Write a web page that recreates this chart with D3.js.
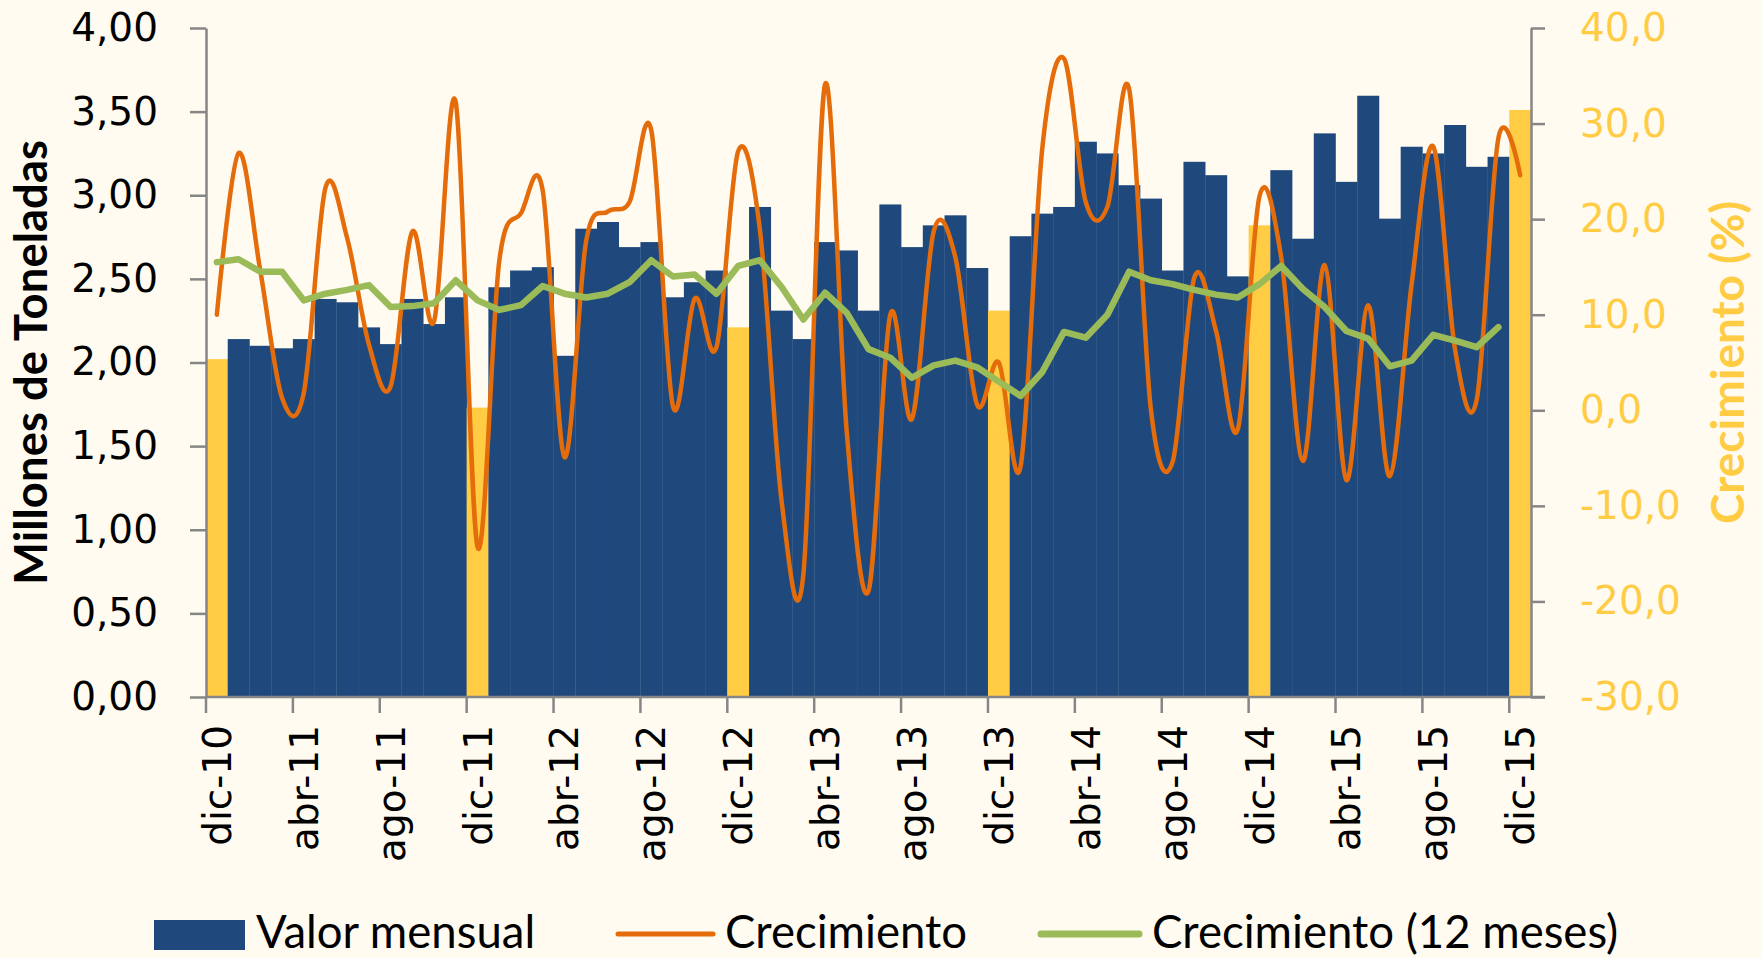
<!DOCTYPE html>
<html>
<head>
<meta charset="utf-8">
<script src="https://cdn.jsdelivr.net/npm/d3@7"></script>
<style>
  html, body { margin: 0; padding: 0; background: #FFFBF0; }
  svg { display: block; }
</style>
</head>
<body>
<div id="chart"></div>
<script>
// === Data ===
const monthNames = ["ene", "feb", "mar", "abr", "may", "jun", "jul", "ago", "sep", "oct", "nov", "dic"];
const years = ["11", "12", "13", "14", "15"];
const months = ["dic-10"];
years.forEach(y => monthNames.forEach(m => months.push(m + "-" + y)));

const tickLabels = ["dic-10", "abr-11", "ago-11", "dic-11", "abr-12", "ago-12", "dic-12", "abr-13",
  "ago-13", "dic-13", "abr-14", "ago-14", "dic-14", "abr-15", "ago-15", "dic-15"];

// Millones de toneladas
const valorMensual = [
  2.02,
  2.14, 2.10, 2.085, 2.14, 2.38, 2.36, 2.21, 2.11, 2.38, 2.23, 2.39, 1.73,
  2.45, 2.55, 2.57, 2.04, 2.80, 2.84, 2.69, 2.72, 2.39, 2.48, 2.55, 2.21,
  2.93, 2.31, 2.14, 2.72, 2.67, 2.31, 2.945, 2.69, 2.82, 2.88, 2.565, 2.31,
  2.755, 2.89, 2.93, 3.32, 3.25, 3.06, 2.98, 2.55, 3.20, 3.12, 2.515, 2.82,
  3.15, 2.74, 3.37, 3.08, 3.595, 2.86, 3.29, 3.25, 3.42, 3.17, 3.23, 3.51
];

// Crecimiento mensual (%)
const crecimiento = [
  10.0,
  26.9, 14.6, 1.3, 1.8, 23.3, 18.0, 6.9, 2.5, 18.7, 9.3, 32.2, -14.3,
  15.6, 20.6, 23.0, -4.9, 17.7, 20.8, 21.8, 29.3, 0.4, 11.7, 6.6, 27.1,
  18.9, -9.5, -17.2, 34.1, -2.3, -18.9, 10.0, -0.9, 18.7, 16.0, 0.6, 5.0,
  -5.9, 27.4, 36.8, 21.8, 21.3, 33.6, 0.1, -5.4, 13.9, 8.3, -2.0, 22.4,
  16.0, -5.3, 15.2, -7.3, 11.0, -6.9, 13.1, 27.6, 6.4, 1.1, 28.5, 24.6
];

// Crecimiento acumulado 12 meses (%), hasta nov-15
const crecimiento12 = [
  15.5,
  15.8, 14.5, 14.5, 11.5, 12.2, 12.6, 13.1, 10.8, 10.9, 11.2, 13.6, 11.5,
  10.5, 11.0, 13.0, 12.2, 11.8, 12.2, 13.4, 15.7, 14.0, 14.2, 12.2, 15.1,
  15.7, 12.9, 9.5, 12.3, 10.2, 6.4, 5.5, 3.4, 4.7, 5.2, 4.5, 3.0,
  1.5, 4.0, 8.2, 7.6, 10.0, 14.5, 13.6, 13.2, 12.6, 12.1, 11.8, 13.2,
  15.1, 12.7, 10.8, 8.3, 7.5, 4.6, 5.2, 7.9, 7.3, 6.6, 8.7
];

const leftTicks = [0, 0.5, 1, 1.5, 2, 2.5, 3, 3.5, 4];
const rightTicks = [-30, -20, -10, 0, 10, 20, 30, 40];

// === Layout ===
const width = 1762, height = 958;
const plot = { left: 206, right: 1531, top: 28, bottom: 697 };

const colors = {
  bar: "#1F497D",
  dec: "#FFCC44",
  orange: "#E46C0A",
  green: "#9BBB59",
  axis: "#868686",
  rightText: "#FFCC44"
};

const svg = d3.select("#chart")
  .append("svg")
  .attr("width", width)
  .attr("height", height)
  .style("background", "#FFFBF0");

const x = d3.scaleBand()
  .domain(months)
  .range([plot.left, plot.right])
  .padding(0);

const yL = d3.scaleLinear().domain([0, 4]).range([plot.bottom, plot.top]);
const yR = d3.scaleLinear().domain([-30, 40]).range([plot.bottom, plot.top]);

const cx = d => x(d) + x.bandwidth() / 2;
// decimal comma, plain hyphen for negatives
const comma = f => v => d3.format(f)(v).replace(".", ",").replace("\u2212", "-");

// Bars
svg.append("g")
  .selectAll("rect")
  .data(valorMensual)
  .join("rect")
  .attr("x", (d, i) => x(months[i]))
  .attr("y", d => yL(d))
  .attr("width", x.bandwidth() + 0.3)
  .attr("height", d => yL(0) - yL(d))
  .attr("fill", (d, i) => months[i].startsWith("dic") ? colors.dec : colors.bar);

// Left axis
const gL = svg.append("g")
  .attr("transform", `translate(${plot.left},0)`)
  .call(d3.axisLeft(yL).tickValues(leftTicks).tickSize(16).tickSizeOuter(0)
    .tickPadding(32).tickFormat(comma(".2f")));

// Right axis
const gR = svg.append("g")
  .attr("transform", `translate(${plot.right},0)`)
  .call(d3.axisRight(yR).tickValues(rightTicks).tickSize(14).tickSizeOuter(0)
    .tickPadding(35).tickFormat(comma(".1f")));

[gL, gR].forEach(g => {
  g.select(".domain").attr("stroke", colors.axis).attr("stroke-width", 2.5);
  g.selectAll(".tick line").attr("stroke", colors.axis).attr("stroke-width", 2.5);
  g.selectAll(".tick text")
    .style("font-family", "'DejaVu Sans', Verdana, sans-serif")
    .style("font-size", "39px");
});
gL.selectAll(".tick text").attr("fill", "#000");
gR.selectAll(".tick text").attr("fill", colors.rightText);

// X axis: line, ticks at left edge of every 4th month, labels at centres
const gX = svg.append("g");
gX.append("line")
  .attr("x1", plot.left).attr("x2", plot.right + 14)
  .attr("y1", plot.bottom).attr("y2", plot.bottom)
  .attr("stroke", colors.axis).attr("stroke-width", 2.5);

gX.selectAll("line.tick")
  .data(tickLabels)
  .join("line")
  .attr("class", "tick")
  .attr("x1", d => x(d)).attr("x2", d => x(d))
  .attr("y1", plot.bottom).attr("y2", plot.bottom + 16)
  .attr("stroke", colors.axis).attr("stroke-width", 2.5);

gX.selectAll("text")
  .data(tickLabels)
  .join("text")
  .attr("transform", d => `translate(${cx(d)},${plot.bottom + 28}) rotate(-90)`)
  .attr("text-anchor", "end")
  .attr("dy", "0.36em")
  .style("font-family", "'DejaVu Sans', Verdana, sans-serif")
  .style("font-size", "39px")
  .attr("fill", "#000")
  .text(d => d);

// Lines
const lineOrange = d3.line()
  .x((d, i) => cx(months[i]))
  .y(d => yR(d))
  .curve(d3.curveCardinal.tension(0));

svg.append("path")
  .datum(crecimiento)
  .attr("d", lineOrange)
  .attr("fill", "none")
  .attr("stroke", colors.orange)
  .attr("stroke-width", 4.5)
  .attr("stroke-linecap", "round")
  .attr("stroke-linejoin", "round");

const lineGreen = d3.line()
  .x((d, i) => cx(months[i]))
  .y(d => yR(d));

svg.append("path")
  .datum(crecimiento12)
  .attr("d", lineGreen)
  .attr("fill", "none")
  .attr("stroke", colors.green)
  .attr("stroke-width", 6.5)
  .attr("stroke-linecap", "round")
  .attr("stroke-linejoin", "round");

// Axis titles
svg.append("text")
  .attr("transform", `translate(47,${(plot.top + plot.bottom) / 2}) rotate(-90)`)
  .attr("text-anchor", "middle")
  .style("font-family", "Lato, sans-serif")
  .style("font-weight", "bold")
  .style("font-size", "45.5px")
  .attr("fill", "#000")
  .text("Millones de Toneladas");

svg.append("text")
  .attr("transform", `translate(1744,${(plot.top + plot.bottom) / 2}) rotate(-90)`)
  .attr("text-anchor", "middle")
  .style("font-family", "Lato, sans-serif")
  .style("font-weight", "bold")
  .style("font-size", "46px")
  .attr("fill", colors.rightText)
  .text("Crecimiento (%)");

// Legend
const legend = svg.append("g")
  .style("font-family", "Lato, sans-serif")
  .style("font-size", "45.5px");

legend.append("rect")
  .attr("x", 154).attr("y", 920).attr("width", 91).attr("height", 30)
  .attr("fill", colors.bar);
legend.append("text").attr("x", 256).attr("y", 948).text("Valor mensual");

legend.append("line")
  .attr("x1", 618).attr("x2", 713).attr("y1", 934).attr("y2", 934)
  .attr("stroke", colors.orange).attr("stroke-width", 5).attr("stroke-linecap", "round");
legend.append("text").attr("x", 725).attr("y", 948).text("Crecimiento");

legend.append("line")
  .attr("x1", 1041).attr("x2", 1139).attr("y1", 934).attr("y2", 934)
  .attr("stroke", colors.green).attr("stroke-width", 7).attr("stroke-linecap", "round");
legend.append("text").attr("x", 1152).attr("y", 948).text("Crecimiento (12 meses)");
</script>
</body>
</html>
